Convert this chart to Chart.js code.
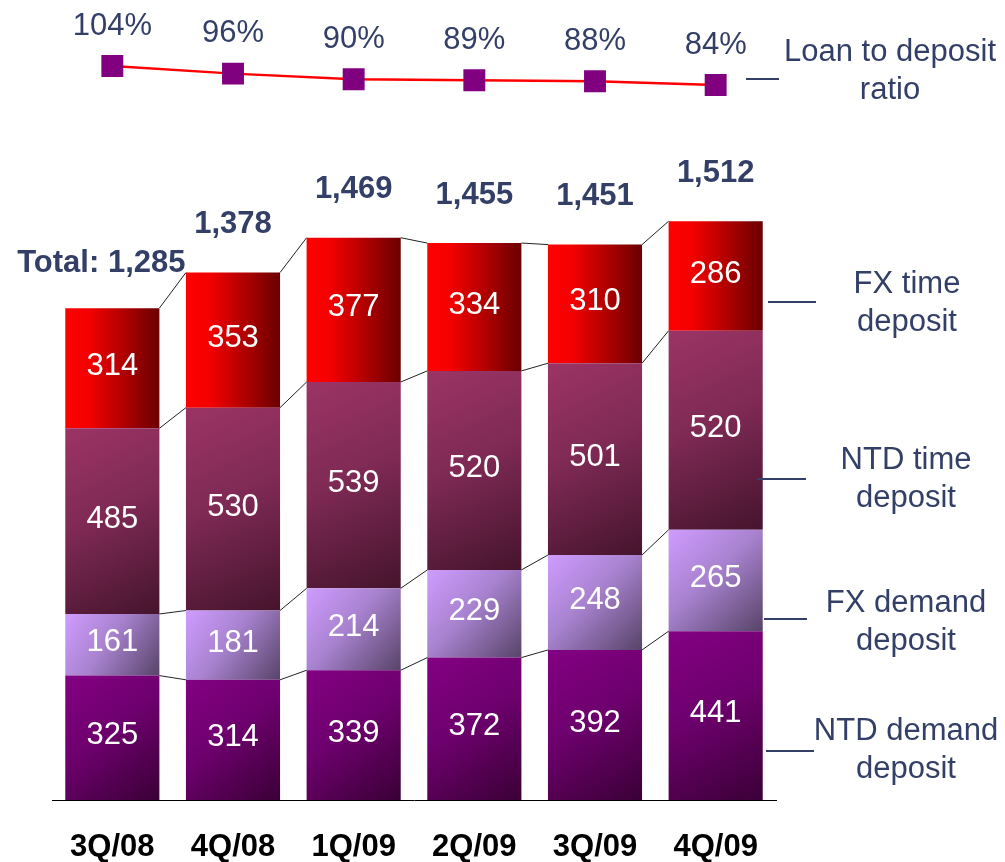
<!DOCTYPE html>
<html>
<head>
<meta charset="utf-8">
<script src="https://cdn.jsdelivr.net/npm/chart.js@4.4.1/dist/chart.umd.min.js"></script>
<style>
  html, body { margin: 0; padding: 0; background: #fff; overflow: hidden; }
</style>
</head>
<body>
<canvas id="depositChart" width="1005" height="862"></canvas>
<script>
// quarters and deposit mix (NT$ bn)
const quarters = ["3Q/08", "4Q/08", "1Q/09", "2Q/09", "3Q/09", "4Q/09"];
const ntdDemand = [325, 314, 339, 372, 392, 441];
const fxDemand = [161, 181, 214, 229, 248, 265];
const ntdTime = [485, 530, 539, 520, 501, 520];
const fxTime = [314, 353, 377, 334, 310, 286];
const loanToDeposit = [104, 96, 90, 89, 88, 84];

const seriesNames = [
    ["NTD demand", "deposit"],
    ["FX demand", "deposit"],
    ["NTD time", "deposit"],
    ["FX time", "deposit"]
];
const ratioName = ["Loan to deposit", "ratio"];

const FONT = "'Liberation Sans', Arial, sans-serif";
const NAVY = "#333f66";

// colour stops for each series
const stops = [
    [[0, "#830083"], [0.45, "#6e006e"], [1, "#3a0036"]],
    [[0, "#cf9cff"], [0.45, "#a882cf"], [1, "#574468"]],
    [[0, "#9c3466"], [0.45, "#7f2a55"], [1, "#45142d"]],
    [[0, "#ff0000"], [0.25, "#f40000"], [1, "#6a0000"]]
];
const allSeries = [ntdDemand, fxDemand, ntdTime, fxTime];

// gradient per segment, worked out from the scales
function segmentFill(si) {
    return function (ctx) {
        const chart = ctx.chart;
        if (!chart.chartArea || ctx.type !== "data") return stops[si][0][1];
        const xs = chart.scales.x, ys = chart.scales.y;
        const i = ctx.dataIndex;
        let base = 0;
        for (let k = 0; k < si; k++) base += allSeries[k][i];
        const top = ys.getPixelForValue(base + allSeries[si][i]);
        const bottom = ys.getPixelForValue(base);
        const half = xs.width / quarters.length * 0.78 / 2;
        const cx = xs.getPixelForValue(i);
        let g;
        if (si === 3) {
            g = chart.ctx.createLinearGradient(cx - half, 0, cx + half, 0);
        } else {
            g = chart.ctx.createLinearGradient(cx - half, top, cx + half, bottom);
        }
        stops[si].forEach(s => g.addColorStop(s[0], s[1]));
        return g;
    };
}

// thin lines joining segment tops of neighbouring bars + all the text
const decorations = {
    id: "decorations",
    afterDatasetsDraw(chart) {
        const ctx = chart.ctx;
        ctx.save();
        // connectors
        ctx.strokeStyle = "#222";
        ctx.lineWidth = 1;
        for (let d = 0; d < 4; d++) {
            const bars = chart.getDatasetMeta(d).data;
            for (let i = 0; i < bars.length - 1; i++) {
                const a = bars[i], b = bars[i + 1];
                ctx.beginPath();
                ctx.moveTo(a.x + a.width / 2, a.y);
                ctx.lineTo(b.x - b.width / 2, b.y);
                ctx.stroke();
            }
        }
        // values in segments
        ctx.fillStyle = "#fff";
        ctx.font = "31px " + FONT;
        ctx.textAlign = "center";
        ctx.textBaseline = "middle";
        for (let d = 0; d < 4; d++) {
            chart.getDatasetMeta(d).data.forEach((bar, i) => {
                ctx.fillText(String(allSeries[d][i]), bar.x, (bar.y + bar.base) / 2 - 2);
            });
        }
        // totals
        ctx.fillStyle = NAVY;
        ctx.font = "bold 31px " + FONT;
        chart.getDatasetMeta(3).data.forEach((bar, i) => {
            let total = 0;
            allSeries.forEach(s => total += s[i]);
            const txt = total.toLocaleString("en-US");
            if (i === 0) ctx.fillText("Total: " + txt, bar.x - 11, bar.y - 45);
            else ctx.fillText(txt, bar.x, bar.y - 48);
        });
        // ratio labels
        ctx.font = "31px " + FONT;
        chart.getDatasetMeta(4).data.forEach((pt, i) => {
            ctx.fillText(loanToDeposit[i] + "%", pt.x, pt.y - 40);
        });
        // category labels
        ctx.fillStyle = "#000";
        ctx.font = "bold 31px " + FONT;
        const xs = chart.scales.x;
        quarters.forEach((q, i) => {
            ctx.fillText(q, xs.getPixelForValue(i), chart.chartArea.bottom + 47);
        });
        // side legend
        const legend = [
            { lines: ratioName, cx: 890, ty: 52, x1: 746, x2: 779, ly: 79 },
            { lines: seriesNames[3], cx: 907, ty: 284, x1: 768, x2: 816, ly: 302 },
            { lines: seriesNames[2], cx: 906, ty: 460, x1: 757, x2: 806, ly: 479 },
            { lines: seriesNames[1], cx: 906, ty: 603, x1: 764, x2: 807, ly: 619 },
            { lines: seriesNames[0], cx: 906, ty: 731, x1: 766, x2: 814, ly: 751 }
        ];
        ctx.fillStyle = NAVY;
        ctx.strokeStyle = NAVY;
        ctx.lineWidth = 2;
        ctx.font = "31px " + FONT;
        legend.forEach(item => {
            item.lines.forEach((t, k) => ctx.fillText(t, item.cx, item.ty + k * 38));
            ctx.beginPath();
            ctx.moveTo(item.x1, item.ly);
            ctx.lineTo(item.x2, item.ly);
            ctx.stroke();
        });
        ctx.restore();
    }
};

const barSets = allSeries.map((s, si) => ({
    type: "bar",
    data: s,
    backgroundColor: segmentFill(si),
    borderWidth: 0,
    yAxisID: "y",
    order: 2
}));

const chart = new Chart(document.getElementById("depositChart"), {
    data: {
        labels: quarters,
        datasets: barSets.concat([{
            type: "line",
            data: loanToDeposit,
            yAxisID: "y2",
            borderColor: "#ff0000",
            borderWidth: 2.5,
            tension: 0,
            pointStyle: "rect",
            pointRadius: 15.5,
            pointBackgroundColor: "#800080",
            pointBorderWidth: 0,
            order: 1
        }])
    },
    options: {
        responsive: false,
        animation: false,
        layout: { autoPadding: false, padding: { left: 52, right: 229, top: 0, bottom: 62 } },
        plugins: { legend: { display: false }, tooltip: { enabled: false } },
        datasets: { bar: { categoryPercentage: 1, barPercentage: 0.78 } },
        scales: {
            x: {
                stacked: true,
                grid: { display: false, drawTicks: false },
                border: { display: true, color: "#000", width: 1 },
                ticks: { display: false }
            },
            y: { stacked: true, display: false, min: 0, max: 2090 },
            y2: { display: false, min: -668.6, max: 173.5 }
        }
    },
    plugins: [decorations]
});
</script>
</body>
</html>
